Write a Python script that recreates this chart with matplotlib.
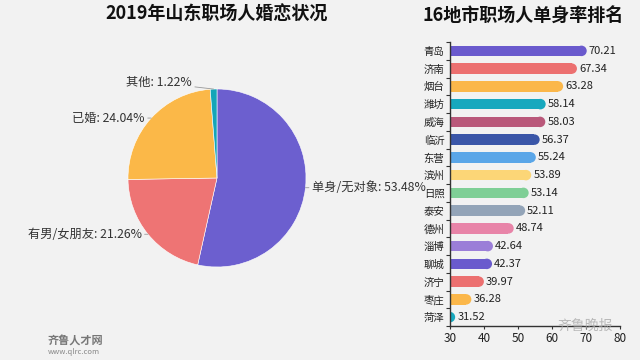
import matplotlib.pyplot as plt
import numpy as np

plt.rcParams['font.family'] = ['Noto Sans CJK SC', 'DejaVu Sans']

# Pie data: marital status
pie_labels = ['单身/无对象', '有男/女朋友', '已婚', '其他']
pie_values = [53.48, 21.26, 24.04, 1.22]
pie_colors = ['#6c5fcf', '#ee7474', '#fbb848', '#14a5b8']

# Bar data: single rate by city
cities = ['青岛', '济南', '烟台', '潍坊', '威海', '临沂', '东营', '滨州',
          '日照', '泰安', '德州', '淄博', '聊城', '济宁', '枣庄', '菏泽']
rates = [70.21, 67.34, 63.28, 58.14, 58.03, 56.37, 55.24, 53.89,
         53.14, 52.11, 48.74, 42.64, 42.37, 39.97, 36.28, 31.52]
bar_colors = ['#6a5acd', '#ec7070', '#fbb74a', '#17a8be', '#b9587a', '#3a56a8',
              '#5aa6e8', '#fcd677', '#7fcf96', '#93a4b8', '#e884a8', '#9b7ed8',
              '#6a5acd', '#ec7070', '#fbb74a', '#17a8be']
xticks = [30, 40, 50, 60, 70, 80]

bg = '#f2f2f2'
fig = plt.figure(figsize=(6.4, 3.6), dpi=100, facecolor=bg)

# ---------------- pie ----------------
r_px = 89
half = 120
ax1 = fig.add_axes([(217 - half) / 640, (360 - 178 - half) / 360,
                    2 * half / 640, 2 * half / 360])
ax1.set_facecolor(bg)
wedges, _ = ax1.pie(pie_values, colors=pie_colors, startangle=90,
                    counterclock=False, radius=1,
                    wedgeprops=dict(edgecolor='white', linewidth=0.4))
lim = half / r_px
ax1.set_xlim(-lim, lim)
ax1.set_ylim(-lim, lim)
ax1.set_aspect('equal')
ax1.axis('off')

# labels with short leader lines
for i, w in enumerate(wedges):
    ang = np.deg2rad((w.theta1 + w.theta2) / 2)
    x, y = np.cos(ang), np.sin(ang)
    if i == 3:
        txt_xy = (-0.28, 1.07)
    else:
        txt_xy = (x + (0.07 if x > 0 else -0.07), y)
    ha = 'left' if i == 0 else 'right'
    ax1.annotate(f'{pie_labels[i]}: {pie_values[i]:.2f}%', xy=(x, y),
                 xytext=txt_xy, ha=ha, va='center', fontsize=8.8,
                 color='#333333',
                 arrowprops=dict(arrowstyle='-', color='#999999', lw=0.6,
                                 shrinkA=0, shrinkB=0),
                 annotation_clip=False)

fig.text(217 / 640, 1 - 14 / 360, '2019年山东职场人婚恋状况', ha='center',
         va='center', fontsize=13, fontweight='bold', color='#111111')

# ---------------- bars ----------------
ax2 = fig.add_axes([450 / 640, (360 - 326) / 360, 170 / 640, 284 / 360])
ax2.set_facecolor(bg)
ypos = np.arange(len(cities))
bar_px = 10.5  # bar thickness in pixels
px_per_unit = 170 / 50
r_units = (bar_px / 2) / px_per_unit
bar_h = bar_px / (284 / len(cities))
# flat body from the axis, then a round tip whose edge lands on the value
body = [v - r_units for v in rates]
ax2.barh(ypos, [b - 30 for b in body], left=30, height=bar_h,
         color=bar_colors, linewidth=0)
ax2.scatter(body, ypos, s=(bar_px * 72 / 100) ** 2, c=bar_colors,
            marker='o', linewidths=0, zorder=2)
for y, v in zip(ypos, rates):
    ax2.text(v + 0.6, y, f'{v:.2f}', va='center', ha='left', fontsize=8,
             color='#222222')
ax2.set_xlim(30, 80)
ax2.set_ylim(len(cities) - 0.5, -0.5)
ax2.set_yticks(ypos)
ax2.set_yticklabels(cities, fontsize=7.5, color='#222222')
ax2.set_yticks(np.arange(len(cities) + 1) - 0.5, minor=True)
ax2.set_xticks(xticks)
ax2.set_xticklabels([str(t) for t in xticks], fontsize=8.5, color='#222222')
for s in ['top', 'right']:
    ax2.spines[s].set_visible(False)
for s in ['left', 'bottom']:
    ax2.spines[s].set_color('#333333')
    ax2.spines[s].set_linewidth(1.0)
    ax2.spines[s].set_zorder(3)
ax2.tick_params(axis='y', which='major', length=0, pad=4)
ax2.tick_params(axis='y', which='minor', length=3, width=0.8, color='#333333')
ax2.tick_params(axis='x', length=2, width=0.8, color='#333333', pad=2)

fig.text(523 / 640, 1 - 16 / 360, '16地市职场人单身率排名', ha='center',
         va='center', fontsize=13, fontweight='bold', color='#111111')

# watermarks
fig.text(48 / 640, 1 - 341 / 360, '齐鲁人才网', fontsize=8, color='#777777',
         fontweight='bold', va='center')
fig.text(48 / 640, 1 - 352 / 360, 'www.qlrc.com', fontsize=5.5,
         color='#888888', va='center')
fig.text(585 / 640, 1 - 326 / 360, '齐鲁晚报', fontsize=10, color='#aaaaaa',
         ha='center', va='center', alpha=0.8)

fig.savefig('out.png', dpi=100, facecolor=bg)
